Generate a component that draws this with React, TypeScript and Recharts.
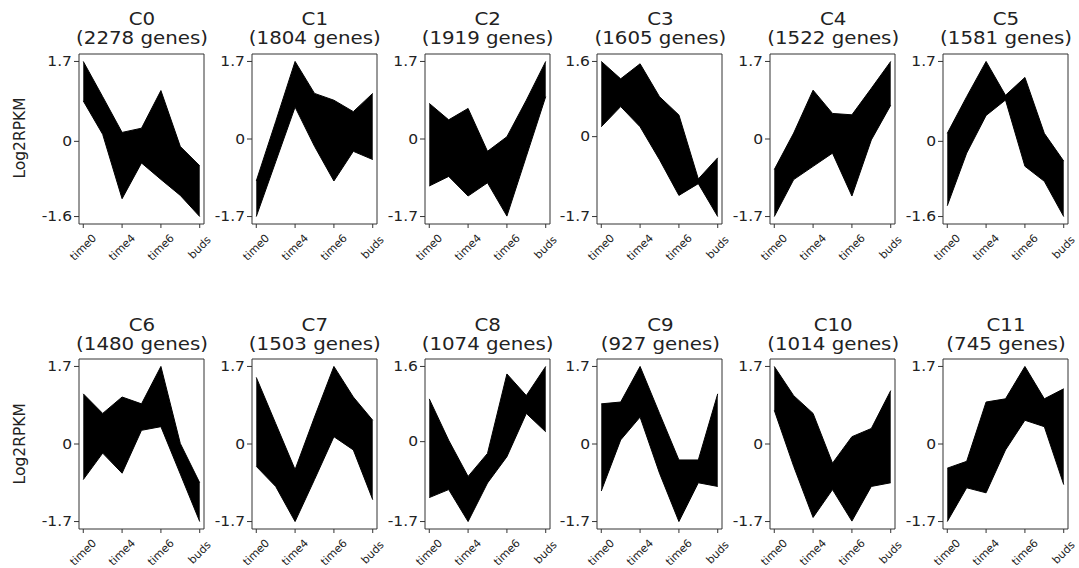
import React from 'react';
import { ComposedChart, Area, XAxis, YAxis } from 'recharts';

const TIME_LABELS = ['time0', 'time4', 'time6', 'buds'];
const TICK_POSITIONS = [0, 2, 4, 6];

const CLUSTERS = ['C0', 'C1', 'C2', 'C3', 'C4', 'C5', 'C6', 'C7', 'C8', 'C9', 'C10', 'C11'];
const GENE_COUNTS = [2278, 1804, 1919, 1605, 1522, 1581, 1480, 1503, 1074, 927, 1014, 745];
const Y_TOP = [1.7, 1.7, 1.7, 1.6, 1.7, 1.7, 1.7, 1.7, 1.6, 1.7, 1.7, 1.7];
const Y_BOTTOM = [-1.6, -1.7, -1.7, -1.7, -1.7, -1.6, -1.7, -1.7, -1.7, -1.7, -1.7, -1.7];

// upper / lower edge of each cluster's bundle of profiles, 7 samples per gene
const c0High = [1.7, 0.95, 0.19, 0.28, 1.08, -0.11, -0.52];
const c0Low = [0.86, 0.15, -1.22, -0.46, -0.81, -1.15, -1.6];
const c1High = [-0.92, 0.38, 1.7, 1.0, 0.85, 0.6, 1.0];
const c1Low = [-1.7, -0.5, 0.7, -0.16, -0.92, -0.27, -0.45];
const c2High = [0.78, 0.42, 0.67, -0.27, 0.05, 0.85, 1.7];
const c2Low = [-1.03, -0.82, -1.25, -0.96, -1.69, -0.38, 0.93];
const c3High = [1.6, 1.23, 1.55, 0.85, 0.46, -0.9, -0.45];
const c3Low = [0.21, 0.64, 0.21, -0.49, -1.25, -1.0, -1.7];
const c4High = [-0.67, 0.13, 1.07, 0.56, 0.53, 1.11, 1.7];
const c4Low = [-1.7, -0.89, -0.6, -0.31, -1.25, -0.02, 0.74];
const c5High = [0.17, 0.95, 1.7, 0.98, 1.36, 0.17, -0.42];
const c5Low = [-1.37, -0.25, 0.55, 0.88, -0.53, -0.85, -1.6];
const c6High = [1.1, 0.67, 1.03, 0.88, 1.7, 0.01, -0.85];
const c6Low = [-0.78, -0.2, -0.64, 0.3, 0.38, -0.66, -1.7];
const c7High = [1.46, 0.45, -0.56, 0.59, 1.7, 1.03, 0.52];
const c7Low = [-0.49, -0.93, -1.7, -0.78, 0.16, -0.13, -1.22];
const c8High = [0.91, 0.03, -0.74, -0.25, 1.44, 0.98, 1.6];
const c8Low = [-1.19, -1.02, -1.7, -0.88, -0.32, 0.6, 0.21];
const c9High = [0.88, 0.92, 1.7, 0.67, -0.35, -0.35, 1.1];
const c9Low = [-1.03, 0.09, 0.59, -0.64, -1.7, -0.85, -0.93];
const c10High = [1.7, 1.06, 0.67, -0.42, 0.16, 0.34, 1.17];
const c10Low = [0.74, -0.49, -1.61, -1.0, -1.69, -0.93, -0.85];
const c11High = [-0.53, -0.38, 0.92, 0.99, 1.7, 0.99, 1.21];
const c11Low = [-1.7, -0.96, -1.07, -0.13, 0.52, 0.38, -0.89];

const HIGHS = [c0High, c1High, c2High, c3High, c4High, c5High, c6High, c7High, c8High, c9High, c10High, c11High];
const LOWS = [c0Low, c1Low, c2Low, c3Low, c4Low, c5Low, c6Low, c7Low, c8Low, c9Low, c10Low, c11Low];

const FONT = '"DejaVu Sans", sans-serif';
const INK = '#222';
const BOX_W = 126;
const BOX_H = 171;
const BOX_LEFT0 = 79;
const COL_STEP = 172.8;
const ROW_TOPS = [52.5, 358.3];
const Y_AXIS_W = 50;
const X_AXIS_H = 50;
const M_TOP = 10;
const M_RIGHT = 22;
const PAD = 0.048;

const boxLeftOf = (i: number) => BOX_LEFT0 + (i % 6) * COL_STEP;
const boxTopOf = (i: number) => ROW_TOPS[Math.floor(i / 6)];

const TimeTick = ({ x, y, payload }: any) => {
  const idx = TICK_POSITIONS.indexOf(payload.value);
  return (
    <g transform={`translate(${x},${y + 19.5})`}>
      <text
        transform="rotate(-45)"
        textAnchor="middle"
        dominantBaseline="central"
        fontSize={11}
        fontFamily={FONT}
        fill={INK}
      >
        {TIME_LABELS[idx]}
      </text>
    </g>
  );
};

const ValueTick = ({ x, y, payload }: any) => {
  const v = payload.value;
  return (
    <text
      transform={`translate(${x},${y}) scale(1.15,1)`}
      textAnchor="end"
      dominantBaseline="central"
      fontSize={13.5}
      fontFamily={FONT}
      fill={INK}
    >
      {v === 0 ? '0' : v.toFixed(1)}
    </text>
  );
};

function Panel({ index }: { index: number }) {
  const boxLeft = boxLeftOf(index);
  const boxTop = boxTopOf(index);
  const top = Y_TOP[index];
  const bottom = Y_BOTTOM[index];
  const span = top - bottom;
  const yDomain = [bottom - PAD * span, top + PAD * span];
  const data = HIGHS[index].map((hi, i) => ({ x: i, band: [LOWS[index][i], hi] }));

  return (
    <div style={{ position: 'absolute', left: boxLeft - Y_AXIS_W, top: boxTop - M_TOP }}>
      <ComposedChart
        width={Y_AXIS_W + BOX_W + M_RIGHT}
        height={M_TOP + BOX_H + X_AXIS_H}
        data={data}
        margin={{ top: M_TOP, right: M_RIGHT, bottom: 0, left: 0 }}
      >
        <XAxis
          xAxisId="b"
          dataKey="x"
          type="number"
          domain={[-0.22, 6.22]}
          ticks={TICK_POSITIONS}
          interval={0}
          height={X_AXIS_H}
          tickSize={4}
          tickMargin={0}
          tick={<TimeTick />}
          stroke="#333"
          allowDataOverflow
        />
        <XAxis
          xAxisId="t"
          orientation="top"
          dataKey="x"
          type="number"
          domain={[-0.22, 6.22]}
          height={1}
          tick={false}
          tickLine={false}
          stroke="#333"
        />
        <YAxis
          yAxisId="l"
          type="number"
          domain={yDomain}
          ticks={[bottom, 0, top]}
          interval={0}
          width={Y_AXIS_W}
          tickSize={5}
          tickMargin={2}
          tick={<ValueTick />}
          stroke="#333"
          allowDataOverflow
        />
        <YAxis
          yAxisId="r"
          orientation="right"
          type="number"
          domain={yDomain}
          width={1}
          tick={false}
          tickLine={false}
          stroke="#333"
        />
        <Area
          xAxisId="b"
          yAxisId="l"
          type="linear"
          dataKey="band"
          stroke="#000"
          strokeWidth={1}
          fill="#000"
          fillOpacity={1}
          isAnimationActive={false}
          dot={false}
          activeDot={false}
        />
      </ComposedChart>
    </div>
  );
}

export default function App() {
  return (
    <div style={{ position: 'absolute', left: 0, top: 0, width: 1079, height: 568, background: '#fff', overflow: 'hidden' }}>
      {CLUSTERS.map((_, i) => (
        <Panel key={i} index={i} />
      ))}
      <svg width={1079} height={568} style={{ position: 'absolute', left: 0, top: 0, pointerEvents: 'none' }}>
        {CLUSTERS.map((name, i) => {
          const cx = boxLeftOf(i) + BOX_W / 2;
          const t = boxTopOf(i);
          return (
            <g key={name} fontFamily={FONT} fontSize={18} fill={INK} textAnchor="middle">
              <text transform={`translate(${cx},${t - 27.5}) scale(1.1,1)`}>{name}</text>
              <text transform={`translate(${cx},${t - 8.2}) scale(1.1,1)`}>({GENE_COUNTS[i]} genes)</text>
            </g>
          );
        })}
        {ROW_TOPS.map((t) => (
          <text
            key={t}
            transform={`translate(20,${t + BOX_H / 2}) rotate(-90)`}
            textAnchor="middle"
            dominantBaseline="central"
            fontFamily={FONT}
            fontSize={15.5}
            fill={INK}
          >
            Log2RPKM
          </text>
        ))}
      </svg>
    </div>
  );
}
